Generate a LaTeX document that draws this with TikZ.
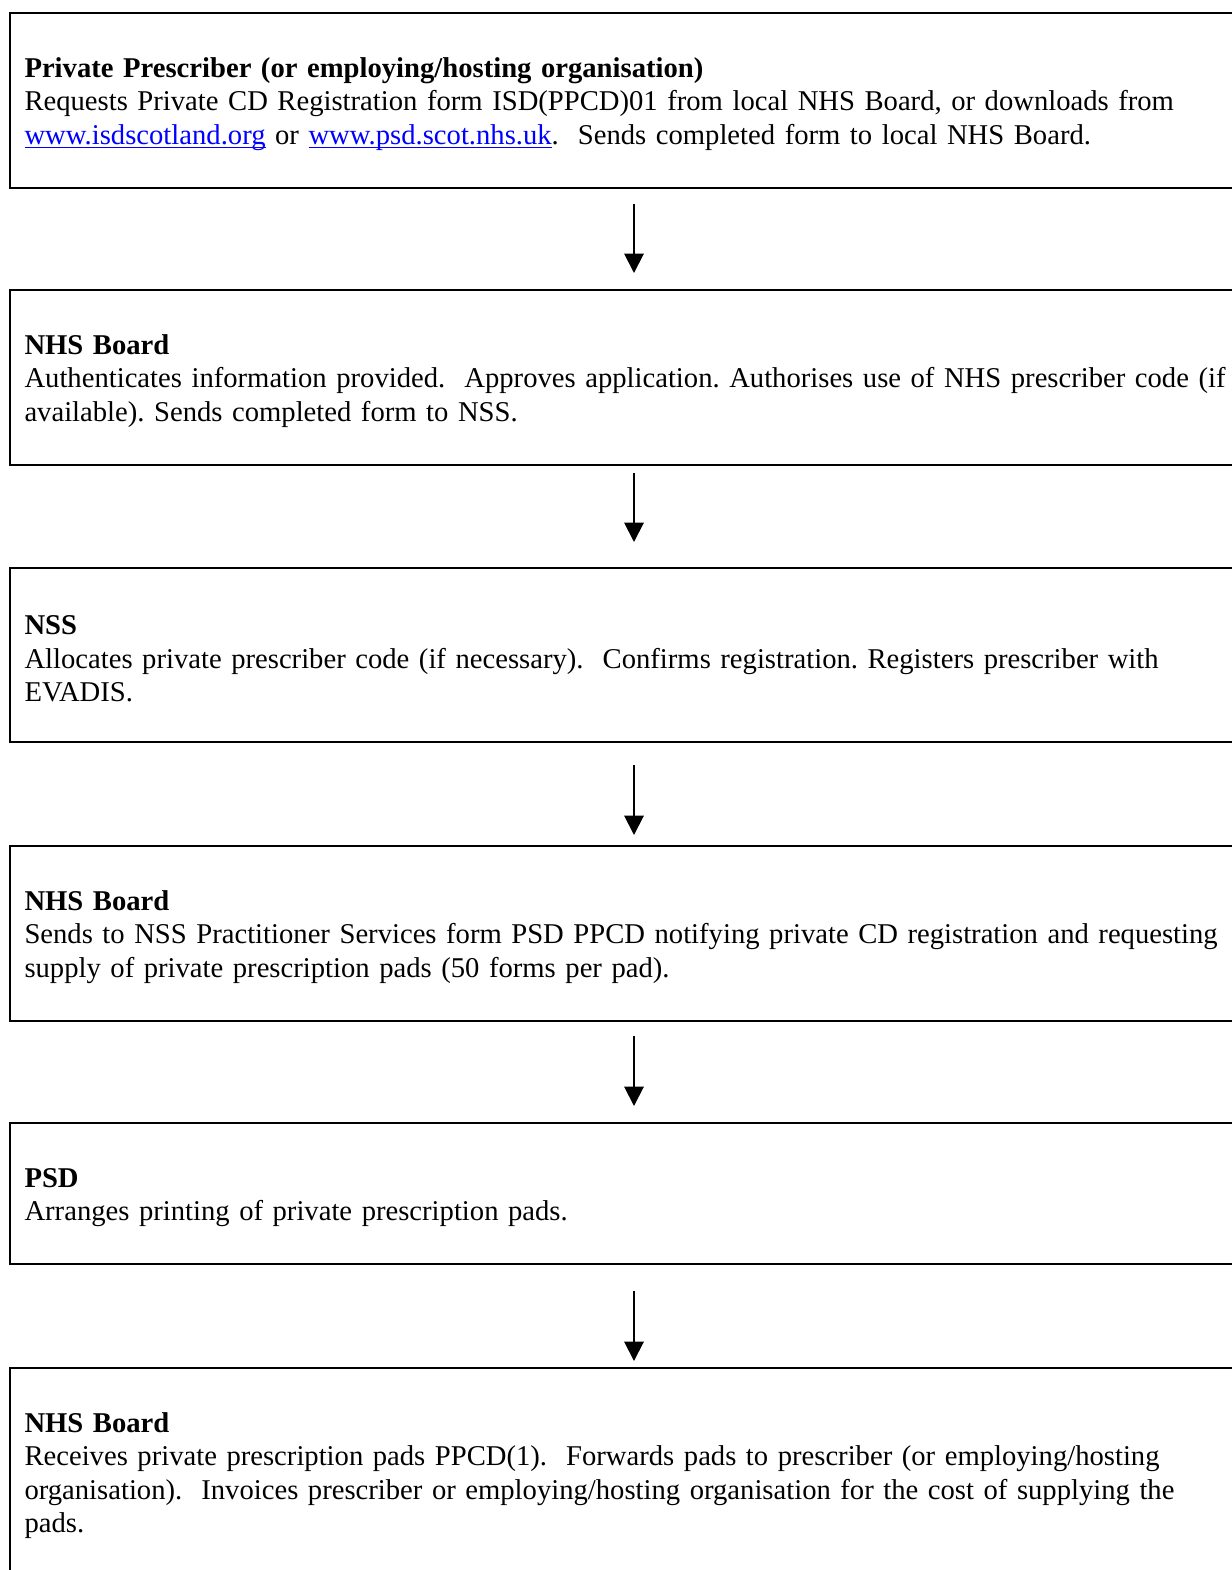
\documentclass[tikz,border=0pt]{standalone}
\usepackage{fontspec}
\setmainfont{Liberation Serif}
\usetikzlibrary{arrows.meta}

\newcommand{\weblink}[1]{\leavevmode{\color{blue}\setbox0\hbox{#1}\rlap{\rule[-1.6pt]{\wd0}{0.55pt}}\box0}}

\begin{document}
\frenchspacing
\begin{tikzpicture}[
    x=0.412pt, y=-0.412pt,
    stepbox/.style={rectangle, draw, line width=0.8pt, anchor=north west, inner xsep=6pt, text width=540pt, align=left, font=\fontsize{11.8}{13.8}\selectfont, execute at begin node={\rule{0pt}{11pt}}},
    flow/.style={-{Triangle[width=8pt,length=8pt]}, line width=0.8pt},
]
\useasboundingbox (0,0) rectangle (1232,1570);

% Process steps
\node[stepbox, minimum height=72.1pt] (prescriber) at (9,12) {\textbf{Private Prescriber (or employing/hosting organisation)}\\
Requests Private CD Registration form ISD(PPCD)01 from local NHS Board, or downloads from\\
\weblink{www.isdscotland.org} or \weblink{www.psd.scot.nhs.uk}.\ \ Sends completed form to local NHS Board.};

\node[stepbox, minimum height=72.1pt] (board1) at (9,289) {\textbf{NHS Board}\\
Authenticates information provided.\ \ Approves application. Authorises use of NHS prescriber code (if\\
available). Sends completed form to NSS.};

\node[stepbox, minimum height=71.7pt] (nss) at (9,567) {\textbf{NSS}\\
Allocates private prescriber code (if necessary).\ \ Confirms registration. Registers prescriber with\\
EVADIS.};

\node[stepbox, minimum height=72.1pt] (board2) at (9,845) {\textbf{NHS Board}\\
Sends to NSS Practitioner Services form PSD PPCD notifying private CD registration and requesting\\
supply of private prescription pads (50 forms per pad).};

\node[stepbox, minimum height=58.1pt] (psd) at (9,1122) {\textbf{PSD}\\
Arranges printing of private prescription pads.};

\node[stepbox, minimum height=85.7pt] (board3) at (9,1367) {\textbf{NHS Board}\\
Receives private prescription pads PPCD(1).\ \ Forwards pads to prescriber (or employing/hosting\\
organisation).\ \ Invoices prescriber or employing/hosting organisation for the cost of supplying the\\
pads.};

% Arrows between steps
\draw[flow] ([shift={(625,15)}]prescriber.south west) -- ([shift={(625,-16)}]board1.north west);
\draw[flow] ([shift={(625,7)}]board1.south west) -- ([shift={(625,-25)}]nss.north west);
\draw[flow] ([shift={(625,22)}]nss.south west) -- ([shift={(625,-10)}]board2.north west);
\draw[flow] ([shift={(625,14)}]board2.south west) -- ([shift={(625,-16)}]psd.north west);
\draw[flow] ([shift={(625,26)}]psd.south west) -- ([shift={(625,-6)}]board3.north west);

\end{tikzpicture}
\end{document}
